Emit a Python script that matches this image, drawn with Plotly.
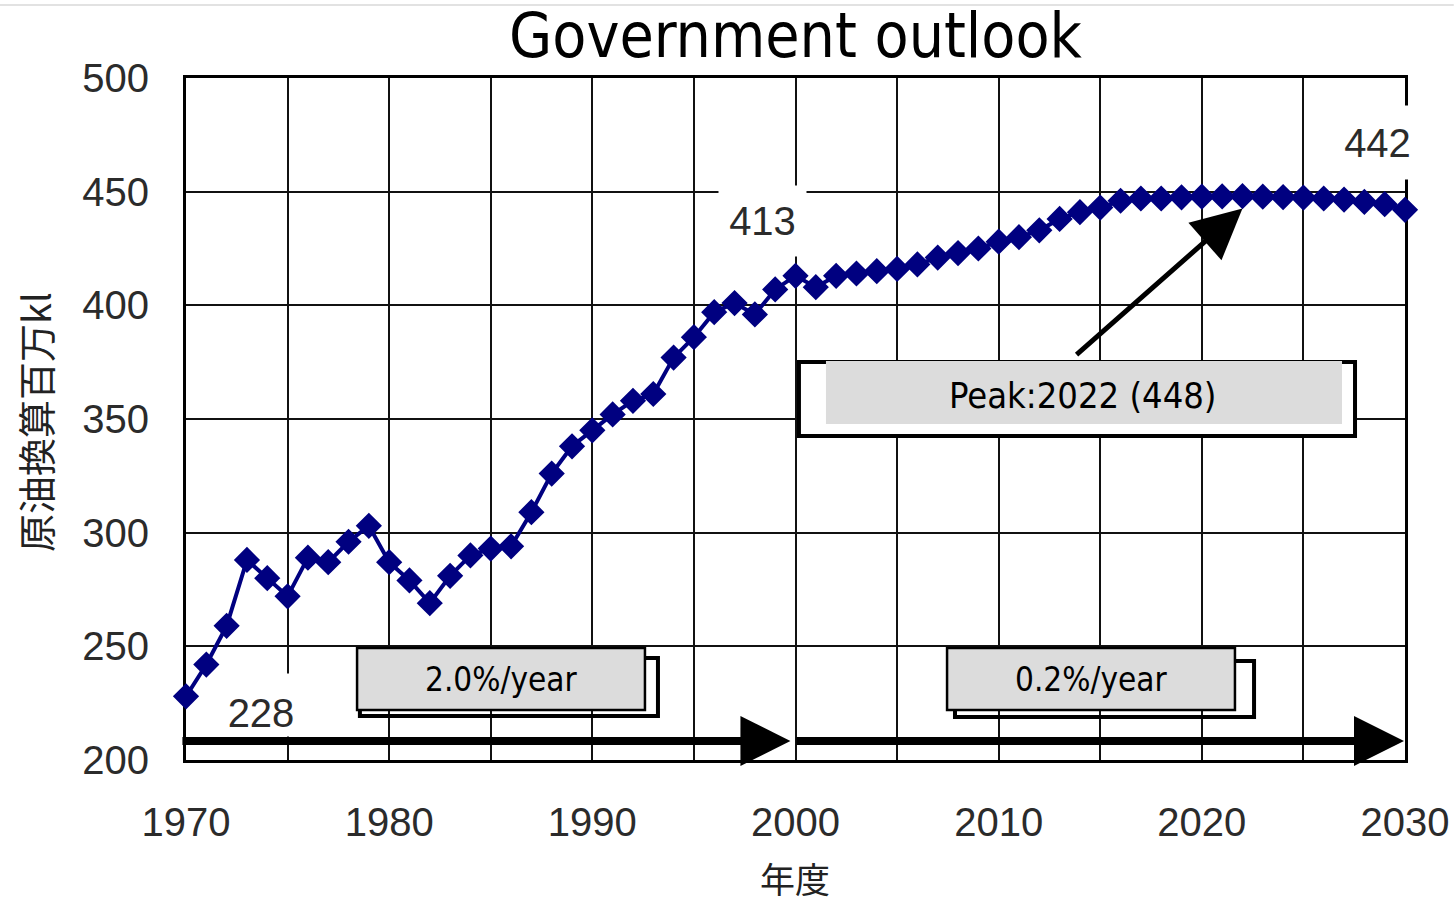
import plotly.graph_objects as go

# Primary energy supply outlook, crude-oil equivalent (million kl), fiscal years
years = list(range(1970, 2031))
supply = [228, 242, 259, 288, 280, 272, 289, 287, 296, 303,
          287, 279, 269, 281, 290, 293, 294, 309, 326, 338,
          345, 352, 358, 361, 377, 386, 397, 401, 396, 407,
          413, 408, 413, 414, 415, 416, 418, 421, 423, 425,
          428, 430, 433, 438, 441, 443, 446, 447, 447, 447.5,
          447.8, 447.9, 448, 447.8, 447.6, 447.4, 447, 446.5, 445.5, 444.5,
          442]

x_grid = list(range(1970, 2031, 5))
x_labels = [str(y) if y % 10 == 0 else "" for y in x_grid]
y_ticks = [200, 250, 300, 350, 400, 450, 500]

growth_labels = ["2.0%/year", "0.2%/year"]
labelled_years = [1970, 2000, 2030]

peak_value = max(supply)
peak_year = years[supply.index(peak_value)]

NAVY = "#000080"
TICK_FONT = dict(family="Liberation Sans, Arial, sans-serif", size=40, color="#2b2b2b")
BOX_FONT = "DejaVu Sans Condensed, DejaVu Sans, sans-serif"
CJK_FONT = "Noto Sans CJK JP, sans-serif"
GRAY = "#dcdcdc"

fig = go.Figure()

fig.add_trace(go.Scatter(
    x=years, y=supply, mode="lines+markers",
    line=dict(color=NAVY, width=4),
    marker=dict(symbol="diamond", size=18, color=NAVY, line=dict(color=NAVY, width=2)),
    cliponaxis=False, hoverinfo="skip",
))

axis_common = dict(
    showgrid=True, gridcolor="#111111", gridwidth=2,
    showline=True, linecolor="black", linewidth=3, mirror=True,
    ticks="", zeroline=False, layer="below traces", tickfont=TICK_FONT,
    fixedrange=True, ticklabeloverflow="allow", automargin=False,
)

fig.update_xaxes(range=[1970, 2030], tickmode="array", tickvals=x_grid, ticktext=x_labels,
                 ticklabelstandoff=25, **axis_common)
fig.update_yaxes(range=[200, 500], tickmode="array", tickvals=y_ticks,
                 ticklabelstandoff=26, **axis_common)

shapes = [
    # thin rule across the top of the page
    dict(type="line", xref="paper", yref="paper", x0=-0.16, x1=1.04, y0=1.107, y1=1.107,
         line=dict(color="#e2e2e2", width=2), layer="above"),
    # 2.0%/year box: outlined back panel and grey front panel
    dict(type="rect", xref="x", yref="y", x0=1978.56, x1=1993.23, y0=219.4, y1=244.9,
         line=dict(color="black", width=4), fillcolor="rgba(0,0,0,0)", layer="above"),
    dict(type="rect", xref="x", yref="y", x0=1978.42, x1=1992.59, y0=222.0, y1=249.3,
         line=dict(color="black", width=2.5), fillcolor=GRAY, layer="above"),
    # 0.2%/year box
    dict(type="rect", xref="x", yref="y", x0=2007.85, x1=2022.57, y0=218.9, y1=243.5,
         line=dict(color="black", width=4), fillcolor="rgba(0,0,0,0)", layer="above"),
    dict(type="rect", xref="x", yref="y", x0=2007.46, x1=2021.63, y0=222.0, y1=249.3,
         line=dict(color="black", width=2.5), fillcolor=GRAY, layer="above"),
    # peak callout box
    dict(type="rect", xref="x", yref="y", x0=2000.17, x1=2027.54, y0=342.5, y1=375.1,
         line=dict(color="black", width=4), fillcolor="white", layer="above"),
    dict(type="rect", xref="x", yref="y", x0=2001.5, x1=2026.9, y0=347.8, y1=375.5,
         line=dict(width=0), fillcolor=GRAY, layer="above"),
]

annotations = []

# value labels on white panels
label_boxes = {
    1970: dict(x=1973.69, y=224.19, width=80, height=60, valign="bottom"),
    2000: dict(x=1998.38, y=437.1, width=85, height=68, valign="middle"),
    2030: dict(x=2028.65, y=471.6, width=85, height=71, valign="middle"),
}
for yr in labelled_years:
    b = label_boxes[yr]
    annotations.append(dict(
        x=b["x"], y=b["y"], xref="x", yref="y", text=f"{supply[years.index(yr)]:g}",
        showarrow=False, bgcolor="white", width=b["width"], height=b["height"],
        valign=b["valign"], font=TICK_FONT, xanchor="center", yanchor="middle",
    ))

# period arrows along the bottom
for x_tail, x_tip in [(1969.75, 1999.75), (1999.97, 2029.95)]:
    annotations.append(dict(
        x=x_tip, y=208.36, ax=x_tail, ay=208.36, xref="x", yref="y", axref="x", ayref="y",
        text="", showarrow=True, arrowhead=2, arrowsize=1.25, arrowwidth=8, arrowcolor="black",
    ))

# arrow pointing at the peak
annotations.append(dict(
    x=2022.0, y=442.6, ax=2013.76, ay=377.7, xref="x", yref="y", axref="x", ayref="y",
    text="", showarrow=True, arrowhead=2, arrowsize=2, arrowwidth=5, arrowcolor="black",
))

# box captions
for txt, xc in zip(growth_labels, [1985.50, 2014.54]):
    annotations.append(dict(x=xc, y=235.63, xref="x", yref="y", text=txt, showarrow=False,
                            font=dict(family=BOX_FONT, size=33, color="black")))
annotations.append(dict(x=2014.15, y=360.12, xref="x", yref="y",
                        text=f"Peak:{peak_year} ({peak_value:g})", showarrow=False,
                        font=dict(family=BOX_FONT, size=36, color="black")))

# axis titles
annotations.append(dict(x=-0.1247, y=0.4956, xref="paper", yref="paper", text="原油換算百万kl",
                        textangle=-90, showarrow=False, xanchor="center", yanchor="middle",
                        font=dict(family=CJK_FONT, size=38, color="#222222")))
annotations.append(dict(x=0.4996, y=-0.1716, xref="paper", yref="paper", text="年度",
                        showarrow=False, xanchor="center", yanchor="middle",
                        font=dict(family=CJK_FONT, size=35, color="#222222")))

fig.update_layout(
    width=1454, height=906,
    margin=dict(l=186, r=49, t=78, b=146),
    paper_bgcolor="white", plot_bgcolor="white",
    showlegend=False,
    title=dict(text="Government outlook", x=0.5, xref="paper", xanchor="center",
               y=1 - 35 / 906, yref="container", yanchor="middle",
               font=dict(family=BOX_FONT, size=62, color="black")),
    shapes=shapes, annotations=annotations,
)

fig.write_html("out.html")
